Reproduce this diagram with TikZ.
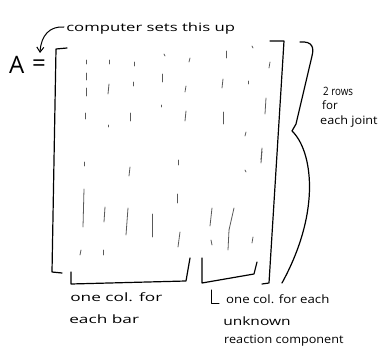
\documentclass[tikz,border=0pt]{standalone}
\usepackage{fontspec}
\setmainfont{Open Sans}
\usetikzlibrary{arrows.meta}
\begin{document}
\begin{tikzpicture}[x=1pt,y=-1pt,
  ink/.style={line width=1.2pt, line cap=round, line join=round},
  tickmark/.style={line width=0.8pt, black!65, line cap=round},
  lbl/.style={font=\fontsize{11.5}{12}\selectfont, inner sep=0pt, anchor=base west},
  big/.style={font=\fontsize{24}{26}\selectfont, inner sep=0pt, anchor=base west}]
\useasboundingbox (0,0) rectangle (381,350);
% label at top and arrow
\node[lbl, xscale=1.45] (top) at (66,32) {computer sets this up};
\draw[ink, line width=1pt, -{Straight Barb[length=5pt,width=7pt]}] (64,27) .. controls (50,26) and (41,35) .. (40,53);
\node[big] (A) at (9,74) {A};
\node[big] (eq) at (32,72) {=};
% matrix brackets
\draw[ink] (67,48) -- (56,49) -- (52,272) -- (62,273);
\draw[ink] (270,41) -- (284,41) -- (269,283) -- (262,284);
% right brace
\draw[ink] (300,42) .. controls (313,41) and (314,48) .. (312,56) -- (296,124) -- (292,131)
  .. controls (312,150) and (322,210) .. (282,283);
% bottom braces
\draw[ink] (71,272) -- (71,284) -- (186,281) -- (190,258);
\draw[ink] (202,258) -- (202,283) -- (254,274) -- (257,262);
\draw[ink, line width=1pt] (211,290) -- (211,304) -- (219,304);
% entries (sketchy ticks)
\foreach \xa/\ya/\xb/\yb in {
  86/60/86/64, 109/60/109/64, 134/62/134/66, 164/54/165/56, 190/58/189/62,
  226/51/226/58, 252/46/253/48, 270/62/269/68,
  86/73/86/80, 162/74/162/82, 133/82/133/86, 86/88/86/96, 109/84/108/94,
  186/86/185/92, 223/79/222/88, 248/81/248/84, 266/98/265/114,
  85/113/85/119, 130/113/130/121, 186/111/185/121, 223/112/223/124,
  161/105/161/107, 108/125/108/127, 246/132/245/136, 262/148/261/160,
  84/162/84/166, 130/167/129/176, 178/160/178/165, 262/151/261/163,
  84/189/83/227, 105/207/104/222, 128/208/126/235, 152/214/152/237,
  177/194/177/203, 180/232/178/247, 212/208/210/226, 234/208/229/230,
  229/230/228/250, 253/237/252/243, 211/240/212/245, 103/250/103/255,
  81/250/80/255, 245/170/246/172}
  \draw[tickmark] (\xa,\ya) -- (\xb,\yb);
% labels
\node[lbl, xscale=0.85] (rows1) at (323,96) {2 rows};
\node[lbl] (rows2) at (322,110) {for};
\node[lbl, xscale=1.1] (rows3) at (320,125) {each joint};
\node[lbl, xscale=1.5] (bar1) at (70,302) {one col. for};
\node[lbl, xscale=1.5] (bar2) at (69,324) {each bar};
\node[lbl, xscale=1.15] (rc1) at (226,304) {one col. for each};
\node[lbl, xscale=1.35] (rc2) at (223,326) {unknown};
\node[lbl, xscale=1.1] (rc3) at (224,344) {reaction component};
\end{tikzpicture}
\end{document}
